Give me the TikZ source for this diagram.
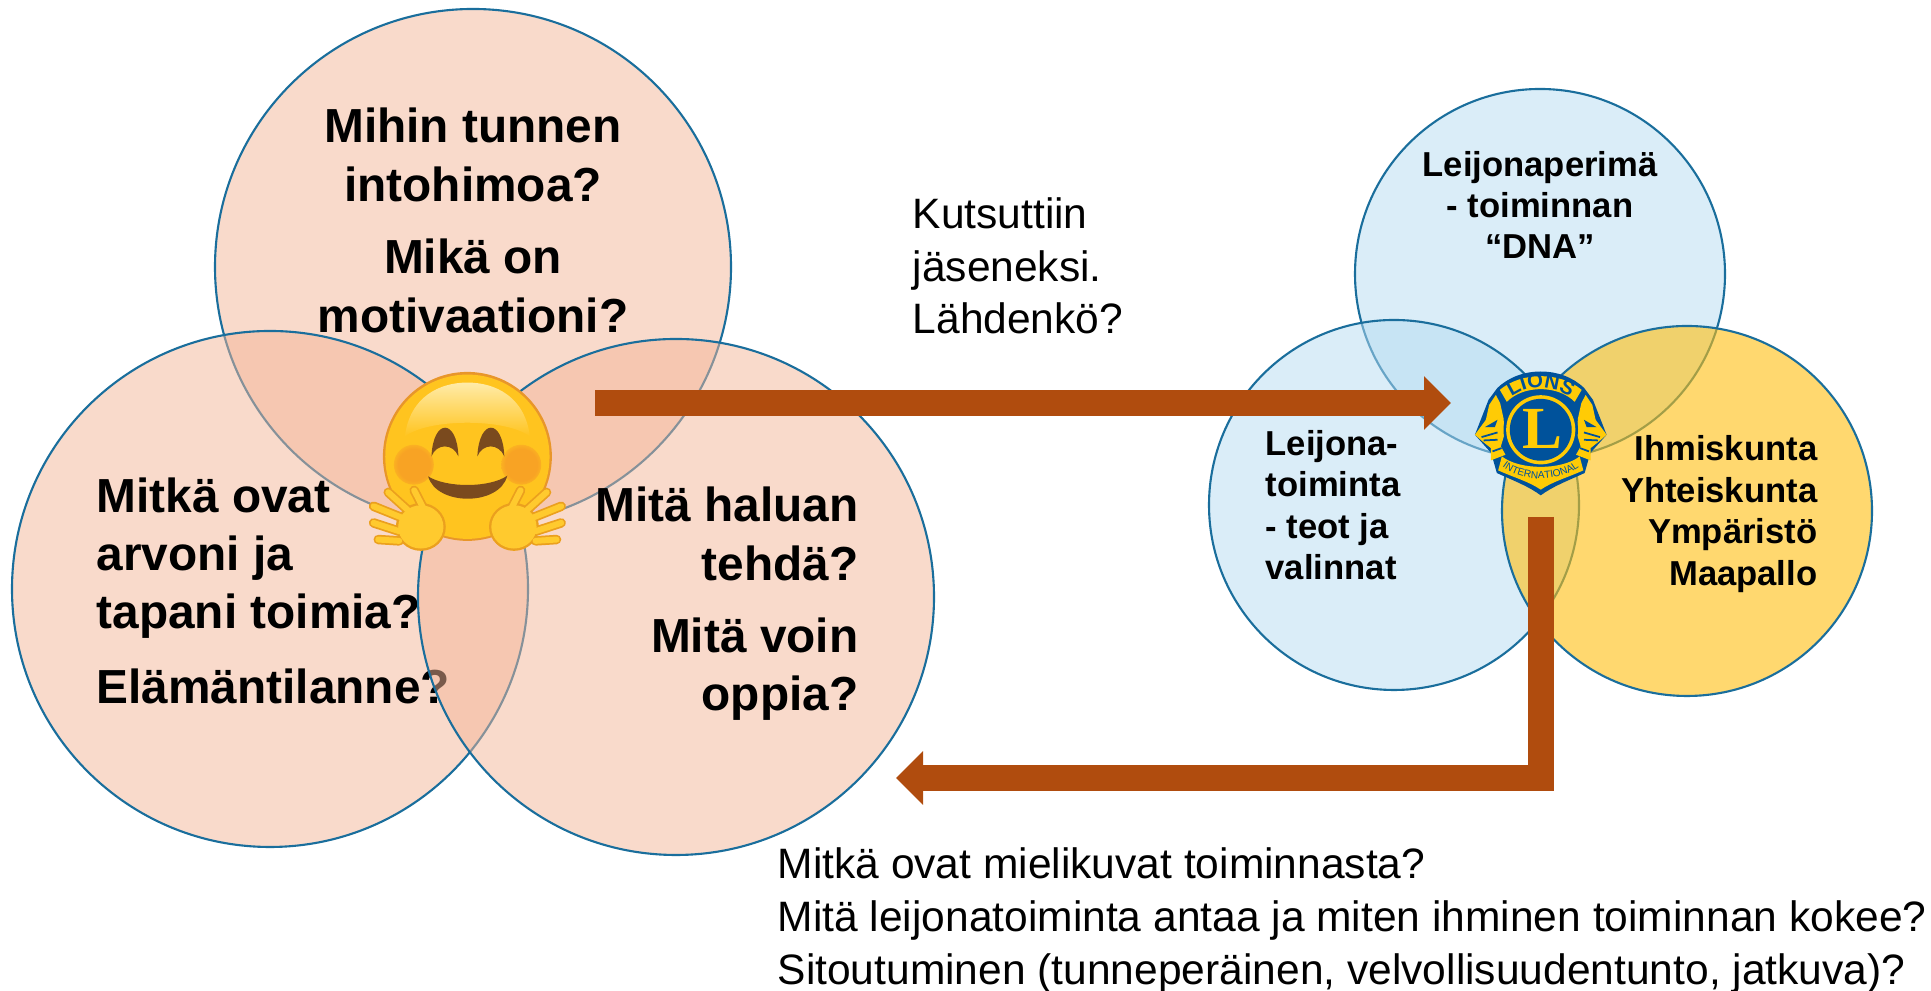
\documentclass[tikz,border=0pt]{standalone}
\usepackage{fontspec}
\setmainfont{Liberation Sans}
\newfontfamily\serifbold[Scale=1]{Liberation Serif}
\usetikzlibrary{arrows.meta,decorations.text}

\definecolor{peachfill}{HTML}{F3B597}
\definecolor{skyfill}{HTML}{B5DBF1}
\definecolor{goldfill}{HTML}{FFBE0F}
\definecolor{ringline}{HTML}{1A6E9C}
\definecolor{arrowrust}{HTML}{B04C0E}
\definecolor{lionblue}{HTML}{00529B}
\definecolor{lionyellow}{HTML}{FFCB05}
\definecolor{faceedge}{HTML}{E8962A}
\definecolor{facemid}{HTML}{FFC41F}
\definecolor{facelight}{HTML}{FFEBA8}
\definecolor{facecheek}{HTML}{F8A324}
\definecolor{facebrown}{HTML}{7A4A1E}
\definecolor{handedge}{HTML}{EBA01E}
\definecolor{handfill}{HTML}{FFCA2E}

\pgfdeclareradialshading{cheekglow}{\pgfpoint{0bp}{0bp}}{color(0bp)=(facecheek); color(20bp)=(facecheek); color(32bp)=(facemid); color(50bp)=(facemid)}

\tikzset{
  bigring/.style={circle, draw=ringline, line width=0.6pt, fill opacity=.5, inner sep=0pt, outer sep=0pt, minimum size=5.16cm},
  smallring/.style={circle, draw=ringline, line width=0.6pt, fill opacity=.5, inner sep=0pt, outer sep=0pt, minimum size=3.70cm},
  bigtext/.style={font=\fontsize{13.6}{16.6}\selectfont\bfseries, inner sep=0pt},
  smalltext/.style={font=\fontsize{9.85}{11.8}\selectfont\bfseries, inner sep=0pt},
  plaintext/.style={font=\fontsize{12.1}{15}\selectfont, inner sep=0pt},
  bigarrow/.style={draw=arrowrust, line width=0.26cm, -{Triangle[length=0.27cm,width=0.52cm,fill=arrowrust]}},
  fingerout/.style={line width=2.7pt, line cap=round, draw=handedge},
  fingerin/.style={line width=1.7pt, line cap=round, draw=handfill}
}

\begin{document}
\begin{tikzpicture}
  \useasboundingbox (0,0) rectangle (19.31,9.91);

  % left group
  \node [bigring, fill=peachfill] (ringtop) at (4.73,7.24) {};
  \node [bigtext, align=center] (askpassion) at (4.73,8.36) {Mihin tunnen\\intohimoa?};
  \node [bigtext, align=center] (askmotive) at (4.73,7.05) {Mikä on\\motivaationi?};
  \node [bigring, fill=peachfill] (ringleft) at (2.70,4.02) {};
  \node [bigtext, align=left, anchor=west] (askvalues) at (0.96,4.33) {Mitkä ovat\\arvoni ja\\tapani toimia?};
  \node [bigtext, anchor=west] (asklife) at (0.96,3.05) {Elämäntilanne?};
  \node [bigring, fill=peachfill] (ringright) at (6.76,3.94) {};
  \node [bigtext, align=right, anchor=east] (askwant) at (8.59,4.57) {Mitä haluan\\tehdä?};
  \node [bigtext, align=right, anchor=east] (asklearn) at (8.59,3.22) {Mitä voin\\oppia?};

  % right group
  \node [smallring, fill=skyfill] (ringdna) at (15.40,7.17) {};
  \node [smallring, fill=skyfill] (ringacts) at (13.94,4.86) {};
  \node [smallring, fill=goldfill, fill opacity=.6] (ringworld) at (16.87,4.80) {};
  \node [smalltext, align=center] (dnatext) at (15.40,7.86) {Leijonaperimä\\- toiminnan\\“DNA”};
  \node [smalltext, align=left, anchor=west] (actstext) at (12.65,4.86) {Leijona-\\toiminta\\- teot ja\\valinnat};
  \node [smalltext, align=right, anchor=east] (worldtext) at (18.18,4.77) {Ihmiskunta\\Yhteiskunta\\Ympäristö\\Maapallo};

  % arrows
  \coordinate (callstart) at (5.95,5.88);
  \coordinate (callend) at (14.51,5.88);
  \coordinate (backstart) at (15.41,4.74);
  \coordinate (backend) at (8.96,2.13);
  \draw [bigarrow] (callstart) -- (callend);
  \draw [bigarrow] (backstart) |- (backend);

  \node [plaintext, align=left, anchor=west] (calltext) at (9.12,7.25) {Kutsuttiin\\jäseneksi.\\Lähdenkö?};
  \node [plaintext, align=left, anchor=west] (asktext) at (7.77,0.705) {Mitkä ovat mielikuvat toiminnasta?\\Mitä leijonatoiminta antaa ja miten ihminen toiminnan kokee?\\Sitoutuminen (tunneperäinen, velvollisuudentunto, jatkuva)?};

  % hugging face
  \begin{scope}[shift={(3.40,6.51)},x=0.00333cm,y=-0.00333cm]
    \fill [faceedge] (383,350) circle [radius=254];
    \fill [facemid] (383,351) circle [radius=247];
    \shade [top color=facelight, bottom color=facemid] (195,290) .. controls (210,170) and (300,128) .. (383,128) .. controls (466,128) and (556,170) .. (571,290) .. controls (500,235) and (266,235) .. (195,290) -- cycle;
    \shade [shading=cheekglow] (222,375) circle [radius=60];
    \shade [shading=cheekglow] (545,375) circle [radius=60];
    \fill [facebrown] (275,350) .. controls (280,235) and (352,235) .. (356,350) .. controls (340,310) and (290,310) .. (275,350) -- cycle;
    \fill [facebrown] (413,350) .. controls (418,235) and (490,235) .. (494,350) .. controls (478,310) and (428,310) .. (413,350) -- cycle;
    \fill [facebrown] (265,410) .. controls (320,445) and (450,445) .. (503,408) .. controls (480,500) and (290,500) .. (265,410) -- cycle;
    \foreach \side in {1,-1} {
      \begin{scope}[shift={(383,0)},xscale=\side]
        \draw [fingerout] (-268,600) -- (-205,604);
        \draw [fingerout] (-282,550) -- (-205,575);
        \draw [fingerout] (-282,500) -- (-195,535);
        \draw [fingerout] (-238,458) -- (-175,515);
        \draw [fingerout] (-160,452) -- (-125,520);
        \fill [handedge] (-140,562) ellipse [x radius=75, y radius=72];
        \draw [fingerin] (-268,600) -- (-205,604);
        \draw [fingerin] (-282,550) -- (-205,575);
        \draw [fingerin] (-282,500) -- (-195,535);
        \draw [fingerin] (-238,458) -- (-175,515);
        \draw [fingerin] (-160,452) -- (-125,520);
        \fill [handfill] (-140,562) ellipse [x radius=68, y radius=65];
      \end{scope}
    }
  \end{scope}

  % lions emblem
  \begin{scope}[shift={(14.20,6.51)},x=0.00333cm,y=-0.00333cm]
    \fill [lionblue] (232,145) .. controls (300,78) and (426,78) .. (494,145) -- (520,180) -- (561,285) -- (512,340) -- (495,400) .. controls (440,425) and (400,440) .. (363,467) .. controls (326,440) and (286,425) .. (231,400) -- (214,340) -- (165,285) -- (206,180) -- cycle;
    \foreach \side in {1,-1} {
      \begin{scope}[shift={(363,0)},xscale=\side]
        \fill [lionyellow] (-198,285) -- (-165,240) -- (-155,195) -- (-135,165) -- (-122,190) -- (-112,235) -- (-108,280) -- (-120,320) -- (-106,345) -- (-150,362) -- (-150,325) -- (-175,305) -- cycle;
        \fill [lionblue] (-168,262) -- (-130,240) -- (-138,262) -- cycle;
        \draw [lionblue, line width=0.5pt] (-178,292) -- (-130,278) (-172,302) -- (-130,300) (-145,335) -- (-118,325);
      \end{scope}
    }
    \fill [lionyellow] (240,150) .. controls (305,95) and (421,95) .. (486,150) -- (465,186) .. controls (415,135) and (311,135) .. (261,186) -- cycle;
    \path [decorate, decoration={text along path, text align=center, text={|\fontsize{5.8}{7}\selectfont\bfseries\color{lionblue}|LIONS}}] (262,183) .. controls (315,130) and (411,130) .. (464,183);
    \fill [lionblue] (363,270) circle [radius=112];
    \fill [lionyellow] (363,270) circle [radius=104];
    \fill [lionblue] (363,270) circle [radius=93];
    \node [inner sep=0pt, text=lionyellow, font=\serifbold\fontsize{17}{17}\selectfont\bfseries] (lionletter) at (369,268) {L};
    \fill [lionyellow] (246,350) .. controls (300,392) and (426,392) .. (480,350) -- (491,392) .. controls (440,415) and (400,425) .. (363,450) .. controls (326,425) and (286,415) .. (235,392) -- cycle;
    \path [decorate, decoration={text along path, text align=center, text={|\fontsize{2.9}{4}\selectfont\color{lionblue}|INTERNATIONAL}}] (244,378) .. controls (305,430) and (421,430) .. (482,378);
  \end{scope}
\end{tikzpicture}
\end{document}
